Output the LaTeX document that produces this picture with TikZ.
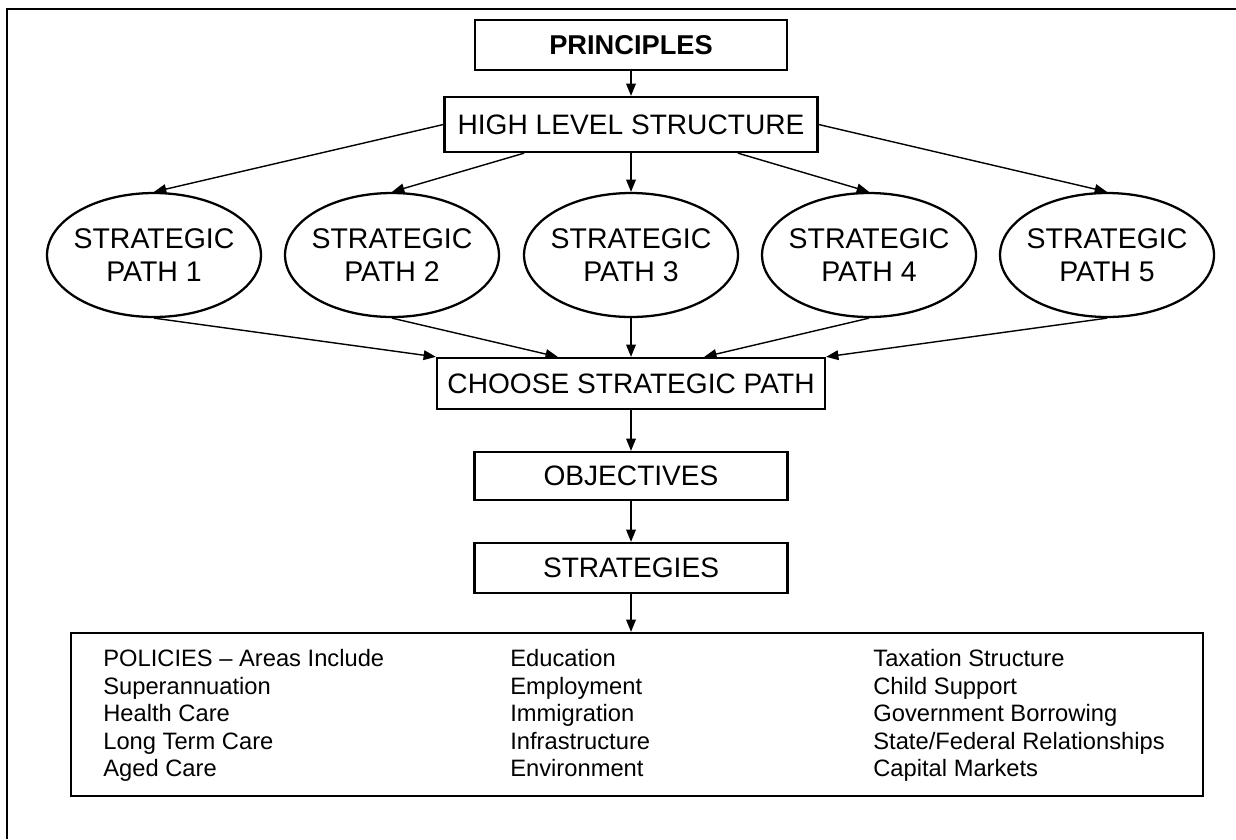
\documentclass[tikz,border=0pt]{standalone}
\usepackage{fontspec}
\setmainfont{Liberation Sans}
\usetikzlibrary{arrows.meta,shapes.geometric}

\begin{document}
\begin{tikzpicture}[x=0.02cm,y=-0.02cm,
  box/.style={draw, line width=1.3pt, inner sep=0pt, font=\fontsize{16}{19}\selectfont},
  oval/.style={draw, ellipse, line width=1.3pt, inner ysep=0pt, inner xsep=-3pt, minimum width=4.28cm, minimum height=2.48cm, align=center, font=\fontsize{16.2}{18.9}\selectfont},
  arr/.style={draw, line width=0.8pt, -{Triangle[length=7pt,width=5.5pt]}},
  list/.style={anchor=north west, inner sep=0pt, align=left, font=\fontsize{13.5}{15.7}\selectfont}]
\useasboundingbox (0,0) rectangle (1236,839);
% frame, top and left only
\draw[line width=1.1pt] (7,839) -- (7,9) -- (1236,9);

\node[box, minimum width=6.24cm, minimum height=1cm, font=\fontsize{15.5}{19}\selectfont\bfseries] (prin) at (631,45) {PRINCIPLES};
\node[box, minimum width=7.46cm, minimum height=1.1cm] (hls) at (631,124.5) {HIGH LEVEL STRUCTURE};
\path[arr] (prin) -- (hls);

% the five paths
\foreach \i/\x in {1/154,2/392,3/631,4/869,5/1107}
  \node[oval] (e\i) at (\x,255) {STRATEGIC\\PATH \i};

\path[arr] (hls.west) -- (e1.north);
\path[arr] (hls.195) -- (e2.north);
\path[arr] (hls) -- (e3);
\path[arr] (hls.-15) -- (e4.north);
\path[arr] (hls.east) -- (e5.north);

\node[box, minimum width=7.76cm, minimum height=1.02cm] (csp) at (631,383.5) {CHOOSE STRATEGIC PATH};
\path[arr] (e1.south) -- (csp.north west);
\path[arr] (e2.south) -- (csp.160);
\path[arr] (e3) -- (csp);
\path[arr] (e4.south) -- (csp.20);
\path[arr] (e5.south) -- (csp.north east);

\node[box, minimum width=6.26cm, minimum height=0.96cm] (obj) at (631,476) {OBJECTIVES};
\node[box, minimum width=6.26cm, minimum height=1cm] (strat) at (631,568) {STRATEGIES};
\path[arr] (csp) -- (obj);
\path[arr] (obj) -- (strat);

% policy areas
\node[draw, line width=1.3pt, minimum width=22.64cm, minimum height=3.26cm] (pol) at (637,714.5) {};
\path[arr] (strat.south) -- (strat.south |- pol.north);
\node[list] (col1) at (103,649) {POLICIES -- Areas Include\\Superannuation\\Health Care\\Long Term Care\\Aged Care};
\node[list] (col2) at (510,649) {Education\\Employment\\Immigration\\Infrastructure\\Environment};
\node[list] (col3) at (873,649) {Taxation Structure\\Child Support\\Government Borrowing\\State/Federal Relationships\\Capital Markets};
\end{tikzpicture}
\end{document}
